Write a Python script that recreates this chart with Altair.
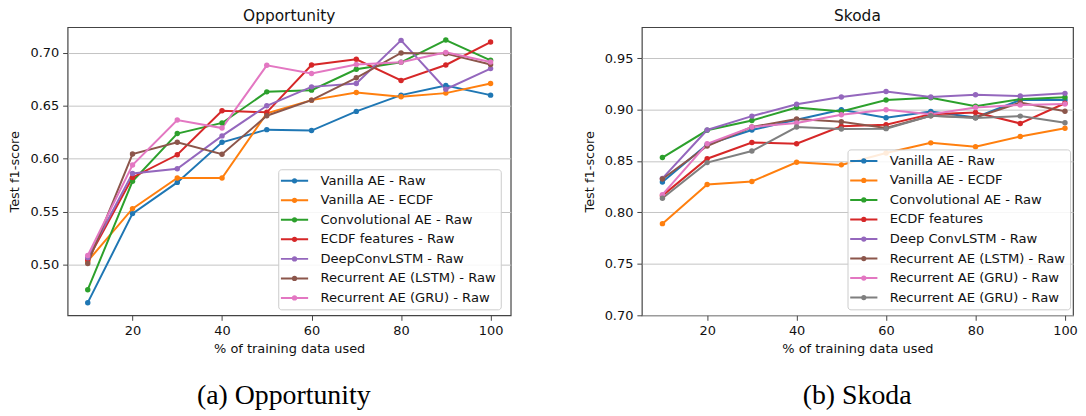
import altair as alt
import pandas as pd

# ---------------- data ----------------
pct = [10, 20, 30, 40, 50, 60, 70, 80, 90, 100]

opp_labels = [
    "Vanilla AE - Raw",
    "Vanilla AE - ECDF",
    "Convolutional AE - Raw",
    "ECDF features - Raw",
    "DeepConvLSTM - Raw",
    "Recurrent AE (LSTM) - Raw",
    "Recurrent AE (GRU) - Raw",
]
opp_vanilla_raw = [0.4645, 0.5484, 0.5778, 0.6156, 0.6275, 0.6266, 0.6447, 0.6600, 0.6690, 0.6600]
opp_vanilla_ecdf = [0.5036, 0.5531, 0.5819, 0.5819, 0.6428, 0.6553, 0.6625, 0.6584, 0.6619, 0.6709]
opp_conv_ae = [0.4767, 0.5788, 0.6238, 0.6338, 0.6631, 0.6647, 0.6844, 0.6909, 0.7119, 0.6928]
opp_ecdf_feat = [0.5050, 0.5825, 0.6038, 0.6453, 0.6438, 0.6884, 0.6938, 0.6738, 0.6884, 0.7100]
opp_deepconvlstm = [0.5068, 0.5862, 0.5906, 0.6216, 0.6500, 0.6678, 0.6709, 0.7116, 0.6656, 0.6850]
opp_rae_lstm = [0.5014, 0.6045, 0.6156, 0.6044, 0.6406, 0.6553, 0.6763, 0.6997, 0.6991, 0.6888]
opp_rae_gru = [0.5090, 0.5942, 0.6366, 0.6290, 0.6881, 0.6803, 0.6888, 0.6909, 0.7003, 0.6913]

skoda_labels = [
    "Vanilla AE - Raw",
    "Vanilla AE - ECDF",
    "Convolutional AE - Raw",
    "ECDF features",
    "Deep ConvLSTM - Raw",
    "Recurrent AE (LSTM) - Raw",
    "Recurrent AE (GRU) - Raw",
    "Recurrent AE (GRU) - Raw",
]
sk_vanilla_raw = [0.8295, 0.8660, 0.8801, 0.8900, 0.8997, 0.8920, 0.8980, 0.8923, 0.9093, 0.9093]
sk_vanilla_ecdf = [0.7891, 0.8272, 0.8301, 0.8487, 0.8462, 0.8577, 0.8676, 0.8638, 0.8737, 0.8817]
sk_conv_ae = [0.8533, 0.8798, 0.8894, 0.9019, 0.8981, 0.9093, 0.9115, 0.9032, 0.9100, 0.9119]
sk_ecdf_feat = [0.8163, 0.8522, 0.8680, 0.8667, 0.8837, 0.8853, 0.8955, 0.8971, 0.8865, 0.9061]
sk_deepconvlstm = [0.8331, 0.8801, 0.8936, 0.9051, 0.9122, 0.9176, 0.9122, 0.9144, 0.9131, 0.9157]
sk_rae_lstm = [0.8324, 0.8645, 0.8830, 0.8907, 0.8881, 0.8820, 0.8939, 0.8923, 0.9067, 0.8984]
sk_rae_gru = [0.8173, 0.8667, 0.8830, 0.8869, 0.8949, 0.8997, 0.8955, 0.9019, 0.9045, 0.9054]
sk_rae_gru2 = [0.8138, 0.8484, 0.8596, 0.8830, 0.8811, 0.8814, 0.8939, 0.8917, 0.8936, 0.8872]

opp_series = [opp_vanilla_raw, opp_vanilla_ecdf, opp_conv_ae, opp_ecdf_feat,
              opp_deepconvlstm, opp_rae_lstm, opp_rae_gru]
sk_series = [sk_vanilla_raw, sk_vanilla_ecdf, sk_conv_ae, sk_ecdf_feat,
             sk_deepconvlstm, sk_rae_lstm, sk_rae_gru, sk_rae_gru2]

opp_yticks = [0.50, 0.55, 0.60, 0.65, 0.70]
sk_yticks = [0.70, 0.75, 0.80, 0.85, 0.90, 0.95]
xticks = [20, 40, 60, 80, 100]

COLORS = ["#1f77b4", "#ff7f0e", "#2ca02c", "#d62728",
          "#9467bd", "#8c564b", "#e377c2", "#7f7f7f"]

FONT = "DejaVu Sans"
FS = 13
LFS = 13.2
# legend symbol: a line with a dot in the middle (matplotlib style)
SYMBOL = ("M-2.5,0L2.5,0M0.3,0A0.3,0.3,0,1,1,-0.3,0"
          "A0.3,0.3,0,1,1,0.3,0Z")


def make_df(series):
    rows = []
    for i, vals in enumerate(series):
        for p, v in zip(pct, vals):
            rows.append({"pct": p, "score": v, "key": f"k{i}"})
    return pd.DataFrame(rows)


def panel(series, labels, title, ydom, yticks, xdom, width, lx, ly):
    df = make_df(series)
    keys = [f"k{i}" for i in range(len(labels))]
    expr = "{" + ",".join(f"'{k}':'{l}'" for k, l in zip(keys, labels)) + "}[datum.value]"
    color = alt.Color(
        "key:N",
        scale=alt.Scale(domain=keys, range=COLORS[: len(keys)]),
        legend=alt.Legend(
            title=None, orient="none", legendX=lx, legendY=ly,
            labelExpr=expr, symbolType=SYMBOL, symbolSize=120,
            symbolStrokeWidth=2, symbolOpacity=1, symbolOffset=4.8,
            labelOffset=19.5, rowPadding=5.65,
            padding=5, fillColor="rgba(255,255,255,0.85)",
            strokeColor="#cccccc", cornerRadius=3,
            labelFontSize=LFS, labelFont=FONT, labelColor="#111111",
            labelLimit=0,
        ),
    )
    x = alt.X("pct:Q", scale=alt.Scale(domain=xdom, nice=False, zero=False),
              axis=alt.Axis(values=xticks, title="% of training data used", grid=False,
                            labelPadding=4, titlePadding=5))
    y = alt.Y("score:Q", scale=alt.Scale(domain=ydom, nice=False, zero=False),
              axis=alt.Axis(values=yticks, format=".2f", title="Test f1-score",
                            grid=True, labelPadding=4, titlePadding=8))
    base = alt.Chart(df)
    lines = base.mark_line(strokeWidth=2).encode(x=x, y=y, color=color)
    pts = base.mark_circle(size=30, opacity=1).encode(x=x, y=y, color=color)
    return alt.layer(lines, pts).properties(
        width=width, height=290,
        title=alt.TitleParams(title, offset=3, fontSize=15.5, font=FONT,
                              fontWeight="normal", color="#111111"),
    )


left = panel(opp_series, opp_labels, "Opportunity", [0.4526, 0.724], opp_yticks,
             [5.5, 104.5], 446, 212, 143)
right = panel(sk_series, skoda_labels, "Skoda", [0.70, 0.98], sk_yticks,
              [5.4, 101.8], 434, 207, 123)


def caption(text, dx):
    return alt.TitleParams(text, orient="bottom", font="Liberation Serif", fontSize=28,
                           fontWeight="normal", color="black", anchor="middle",
                           offset=27, dx=dx)


left_w = alt.vconcat(left, title=caption("(a) Opportunity", 24))
right_w = alt.vconcat(right, title=caption("(b) Skoda", 27))

chart = (
    alt.hconcat(left_w, right_w, spacing=71)
    .resolve_scale(color="independent")
    .properties(padding={"left": 0, "top": -2, "right": 0, "bottom": 0})
    .configure_view(stroke="#444444", strokeWidth=1.2)
    .configure_axis(
        labelFont=FONT, labelFontSize=FS, labelColor="#111111",
        titleFont=FONT, titleFontSize=FS, titleFontWeight="normal", titleColor="#111111",
        domain=False, tickColor="#444444", tickSize=5, tickWidth=1,
        gridColor="#c4c4c4", gridWidth=1,
    )
)

chart.save("out.html", embed_options={"renderer": "svg", "actions": False})
